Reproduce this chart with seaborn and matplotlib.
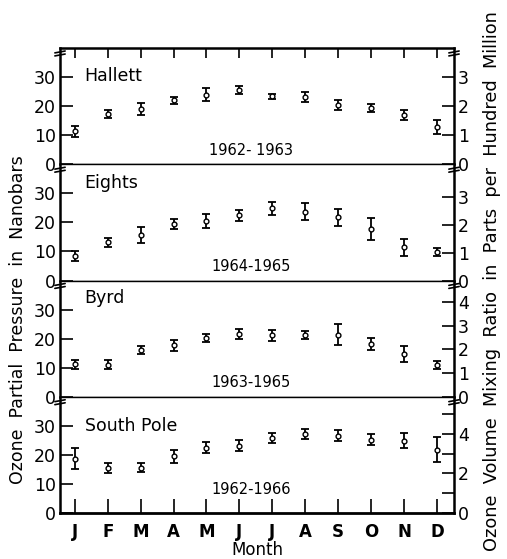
import numpy as np
import pandas as pd
import matplotlib
matplotlib.use("Agg")
import matplotlib.pyplot as plt
import seaborn as sns

months = ["J", "F", "M", "A", "M", "J", "J", "A", "S", "O", "N", "D"]

stations = ["Hallett", "Eights", "Byrd", "South Pole"]
periods = ["1962- 1963", "1964-1965", "1963-1965", "1962-1966"]

hallett_mean = [11.3, 17.3, 19.0, 22.0, 24.0, 25.5, 23.4, 23.2, 20.4, 19.4, 17.0, 12.8]
hallett_err = [2.0, 1.3, 2.0, 1.3, 2.3, 1.3, 0.8, 1.7, 1.7, 1.5, 1.8, 2.5]

eights_mean = [8.3, 13.1, 15.7, 19.5, 20.5, 22.4, 24.8, 23.7, 21.7, 17.6, 11.4, 9.8]
eights_err = [1.7, 1.5, 2.8, 1.8, 2.3, 1.9, 2.1, 2.9, 3.0, 3.8, 3.0, 1.5]

byrd_mean = [11.2, 11.0, 16.0, 17.7, 20.2, 21.7, 21.2, 21.2, 21.3, 18.1, 14.8, 10.9]
byrd_err = [1.5, 1.6, 1.4, 1.9, 1.5, 1.7, 1.9, 1.4, 3.6, 2.0, 2.8, 1.4]

pole_mean = [18.7, 15.6, 15.6, 19.5, 22.4, 23.2, 25.8, 27.2, 26.6, 25.2, 24.9, 21.8]
pole_err = [3.7, 1.7, 1.5, 2.2, 1.9, 1.8, 1.7, 1.7, 1.8, 1.9, 2.7, 4.2]

ratio = [10.0, 9.6, 8.17, 6.8]
right_ticks = [[0, 1, 2, 3], [0, 1, 2, 3], [0, 1, 2, 3, 4], [0, 1, 2, 3, 4, 5]]
right_labels = [["0", "1", "2", "3"], ["0", "1", "2", "3"],
                ["0", "1", "2", "3", "4"], ["0", "", "2", "", "4", ""]]

means = [hallett_mean, eights_mean, byrd_mean, pole_mean]
errs = [hallett_err, eights_err, byrd_err, pole_err]

frames = []
for st, m, e in zip(stations, means, errs):
    frames.append(pd.DataFrame({"station": st, "month": np.arange(12),
                                "ozone": m, "err": e}))
df = pd.concat(frames, ignore_index=True)

sns.set_style("ticks")
plt.rcParams["font.family"] = ["DejaVu Sans"]
for key in ["text.color", "axes.labelcolor", "xtick.color", "ytick.color",
            "axes.edgecolor"]:
    plt.rcParams[key] = "black"

fig = plt.figure(figsize=(5.07, 5.59), dpi=100)

W, H = 507.0, 559.0
left, right = 60 / W, 454 / W
top_px, bot_px = 48.0, 513.0
ph = (bot_px - top_px) / 4

name_y = [30.3, 33.4, 34.0, 30.0]
period_y = [4.9, 4.8, 4.8, 8.2]

for i, st in enumerate(stations):
    y0 = 1 - (top_px + (i + 1) * ph) / H
    ax = fig.add_axes([left, y0, right - left, ph / H])
    d = df[df["station"] == st]
    ax.errorbar(d["month"], d["ozone"], yerr=d["err"], fmt="none",
                ecolor="black", elinewidth=1.3, capsize=3, capthick=1.3, zorder=2)
    sns.scatterplot(data=d, x="month", y="ozone", ax=ax, marker="o", s=12,
                    color="white", edgecolor="black", linewidth=1.0, zorder=3)
    ax.set_xlim(-0.45, 11.52)
    ax.set_ylim(0, 40)
    ax.set_yticks([0, 10, 20, 30])
    ax.set_yticklabels(["0", "10", "20", "30"], fontsize=12.5)
    ax.set_xlabel("")
    ax.set_ylabel("")
    ax.tick_params(axis="y", direction="in", length=9, width=1.2, pad=3)

    for side in ["left", "right"]:
        ax.spines[side].set_linewidth(1.8)
    ax.spines["top"].set_linewidth(1.8 if i == 0 else 1.0)
    ax.spines["bottom"].set_linewidth(2.0 if i == 3 else 1.0)

    ax.set_xticks(np.arange(12))
    if i == 0:
        ax.tick_params(axis="x", which="both", top=True, bottom=False,
                       labelbottom=False, direction="in", length=7, width=1.2)
    elif i == 3:
        ax.tick_params(axis="x", bottom=True, direction="in", length=10,
                       width=1.2, pad=7)
        ax.set_xticklabels(months, fontweight="bold", fontsize=12)
        ax.set_xlabel("Month", fontsize=12, labelpad=0)
    else:
        ax.tick_params(axis="x", bottom=False, labelbottom=False)

    ax.text(0.3, name_y[i], st, fontsize=12.5, va="center", ha="left")
    ax.text(5.35, period_y[i], periods[i], fontsize=10.5, va="center", ha="center")

    ax2 = ax.twinx()
    ax2.set_ylim(0, 40 / ratio[i])
    ax2.set_yticks(right_ticks[i])
    ax2.set_yticklabels(right_labels[i], fontsize=12.5)
    ax2.tick_params(axis="y", direction="in", length=9, width=1.2, pad=3)
    for s in ax2.spines.values():
        s.set_visible(False)

    # axis break marks near the top of each panel
    for xs in [0.0, 1.0]:
        for yb in [0.966, 0.94]:
            ax.plot([xs - 0.013, xs + 0.013], [yb - 0.008, yb + 0.008],
                    color="black", lw=1.2, transform=ax.transAxes, clip_on=False)

fig.text(18 / W, 1 - 320 / H, "Ozone  Partial  Pressure  in  Nanobars",
         rotation=90, ha="center", va="center", fontsize=12.5)
fig.text(492 / W, 1 - 281 / H,
         "Ozone  Volume  Mixing  Ratio  in  Parts  per  Hundred  Million",
         rotation=90, ha="center", va="center", fontsize=12.8)

fig.savefig("out.png", dpi=100)
